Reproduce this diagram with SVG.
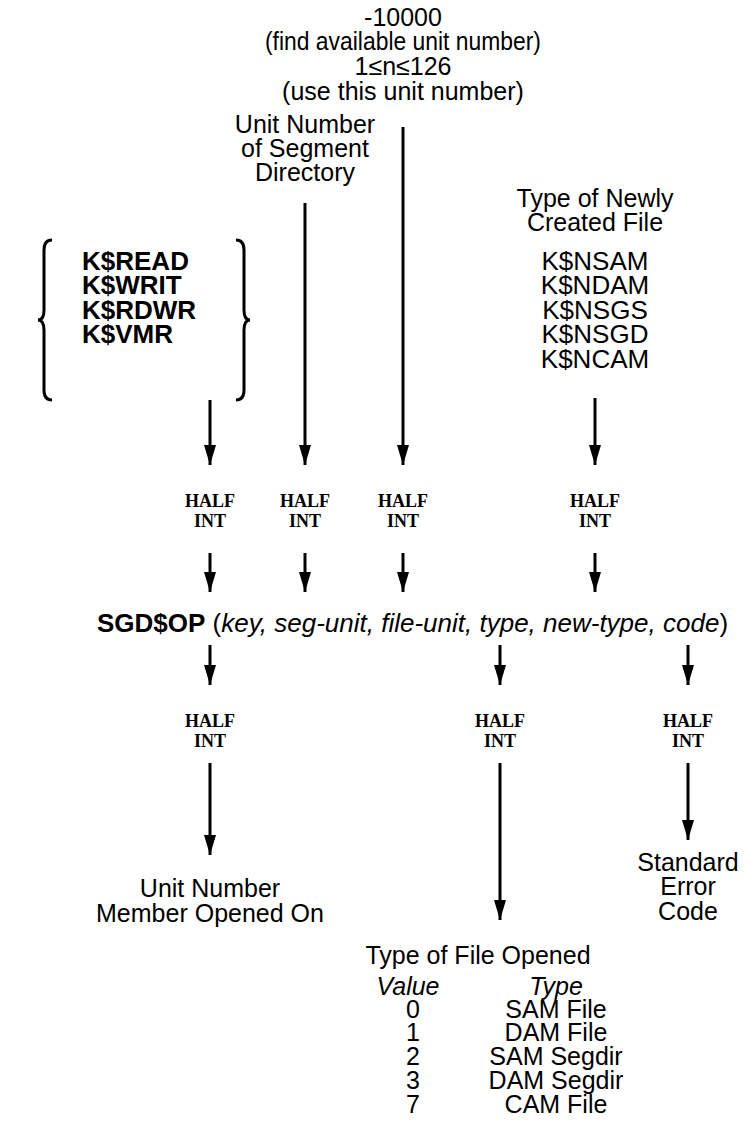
<svg xmlns="http://www.w3.org/2000/svg" width="745" height="1139" viewBox="0 0 745 1139">
<defs>
<marker id="ah" markerWidth="20" markerHeight="12" refX="20" refY="6" orient="auto" markerUnits="userSpaceOnUse" viewBox="0 0 20 12">
<path d="M0,0 L20,6 L0,12 Z" fill="#000"/>
</marker>
<style>
.t{font-family:"Liberation Sans",Arial,sans-serif;font-size:25px;fill:#000;text-anchor:middle}
.b{font-family:"Liberation Sans",Arial,sans-serif;font-size:26px;font-weight:bold;fill:#000}
.k{font-size:26px}
.h{font-family:"Liberation Serif","Times New Roman",serif;font-size:18px;font-weight:bold;fill:#000;text-anchor:middle}
.i{font-style:italic}
.c{stroke:#000;stroke-width:3;fill:none}
.a{stroke:#000;stroke-width:3;fill:none}
</style>
</defs>
<rect width="745" height="1139" fill="#fff"/>
<g id="top-label">
<text class="t" x="403" y="26">-10000</text>
<text class="t" x="403" y="50" textLength="276" lengthAdjust="spacingAndGlyphs">(find available unit number)</text>
<text class="t" x="403" y="75">1≤n≤126</text>
<text class="t" x="403" y="100">(use this unit number)</text>
</g>
<g id="segdir-label">
<text class="t" x="305" y="133">Unit Number</text>
<text class="t" x="305" y="157">of Segment</text>
<text class="t" x="305" y="181">Directory</text>
</g>
<g id="newtype-label">
<text class="t" x="595" y="207">Type of Newly</text>
<text class="t" x="595" y="231">Created File</text>
<text class="t k" x="595" y="270">K$NSAM</text>
<text class="t k" x="595" y="294">K$NDAM</text>
<text class="t k" x="595" y="319">K$NSGS</text>
<text class="t k" x="595" y="343">K$NSGD</text>
<text class="t k" x="595" y="368">K$NCAM</text>
</g>
<g id="key-label">
<path class="c" d="M52,240 Q44,240 44,250 L44,310 Q44,320 38,320 Q44,320 44,330 L44,390 Q44,400 52,400"/>
<path class="c" d="M236,240 Q244,240 244,250 L244,310 Q244,320 250,320 Q244,320 244,330 L244,390 Q244,400 236,400"/>
<text class="b" x="82" y="270">K$READ</text>
<text class="b" x="82" y="294">K$WRIT</text>
<text class="b" x="82" y="319">K$RDWR</text>
<text class="b" x="82" y="343">K$VMR</text>
</g>
<g id="half-in">
<text class="h" x="210" y="507">HALF</text><text class="h" x="210" y="527">INT</text>
<text class="h" x="305" y="507">HALF</text><text class="h" x="305" y="527">INT</text>
<text class="h" x="403" y="507">HALF</text><text class="h" x="403" y="527">INT</text>
<text class="h" x="595" y="507">HALF</text><text class="h" x="595" y="527">INT</text>
</g>
<g id="call">
<text class="b" x="97" y="632">SGD$OP<tspan font-weight="normal"> (<tspan class="i">key, seg-unit, file-unit, type, new-type, code</tspan>)</tspan></text>
</g>
<g id="half-out">
<text class="h" x="210" y="727">HALF</text><text class="h" x="210" y="747">INT</text>
<text class="h" x="500" y="727">HALF</text><text class="h" x="500" y="747">INT</text>
<text class="h" x="688" y="727">HALF</text><text class="h" x="688" y="747">INT</text>
</g>
<g id="unit-out">
<text class="t" x="210" y="897">Unit Number</text>
<text class="t" x="210" y="922">Member Opened On</text>
</g>
<g id="code-out">
<text class="t" x="688" y="871">Standard</text>
<text class="t" x="688" y="895">Error</text>
<text class="t" x="688" y="920">Code</text>
</g>
<g id="type-out">
<text class="t" x="478" y="964">Type of File Opened</text>
<text class="t i" x="408" y="995">Value</text>
<text class="t i" x="556" y="995">Type</text>
<text class="t" x="413" y="1018">0</text><text class="t" x="556" y="1018">SAM File</text>
<text class="t" x="413" y="1041">1</text><text class="t" x="556" y="1041">DAM File</text>
<text class="t" x="413" y="1065">2</text><text class="t" x="556" y="1065">SAM Segdir</text>
<text class="t" x="413" y="1089">3</text><text class="t" x="556" y="1089">DAM Segdir</text>
<text class="t" x="413" y="1113">7</text><text class="t" x="556" y="1113">CAM File</text>
</g>
<g id="connectors">
<line class="a" x1="403" y1="127" x2="403" y2="465" marker-end="url(#ah)"/>
<line class="a" x1="305" y1="203" x2="305" y2="465" marker-end="url(#ah)"/>
<line class="a" x1="210" y1="400" x2="210" y2="465" marker-end="url(#ah)"/>
<line class="a" x1="595" y1="398" x2="595" y2="465" marker-end="url(#ah)"/>
<line class="a" x1="210" y1="553" x2="210" y2="592" marker-end="url(#ah)"/>
<line class="a" x1="305" y1="553" x2="305" y2="592" marker-end="url(#ah)"/>
<line class="a" x1="403" y1="553" x2="403" y2="592" marker-end="url(#ah)"/>
<line class="a" x1="595" y1="553" x2="595" y2="592" marker-end="url(#ah)"/>
<line class="a" x1="210" y1="645" x2="210" y2="685" marker-end="url(#ah)"/>
<line class="a" x1="500" y1="645" x2="500" y2="685" marker-end="url(#ah)"/>
<line class="a" x1="688" y1="645" x2="688" y2="685" marker-end="url(#ah)"/>
<line class="a" x1="210" y1="763" x2="210" y2="855" marker-end="url(#ah)"/>
<line class="a" x1="500" y1="763" x2="500" y2="920" marker-end="url(#ah)"/>
<line class="a" x1="688" y1="763" x2="688" y2="840" marker-end="url(#ah)"/>
</g>
</svg>
